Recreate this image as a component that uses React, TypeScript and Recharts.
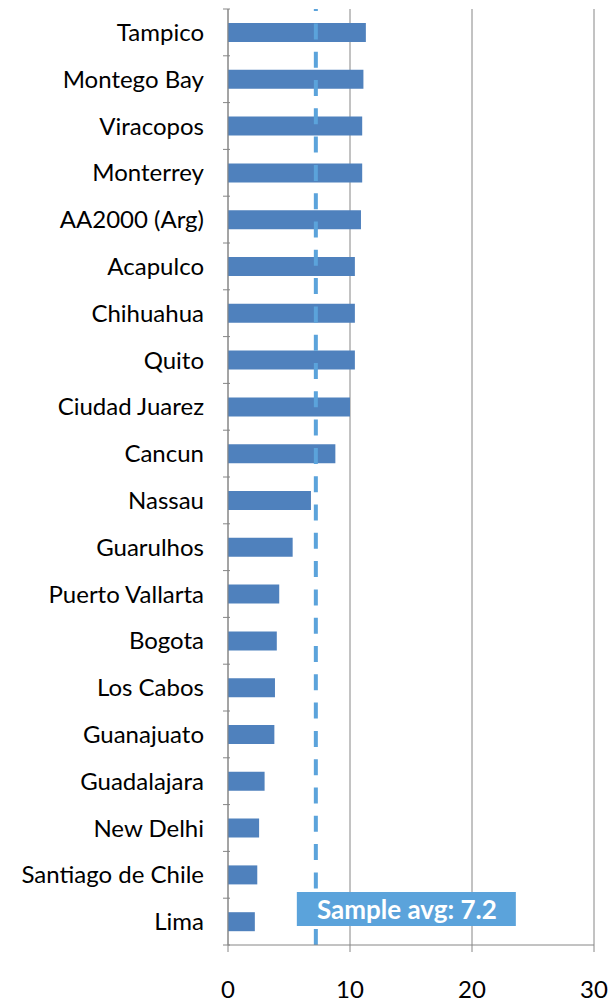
import React from "react";
import {
  BarChart,
  Bar,
  XAxis,
  YAxis,
  CartesianGrid,
  ReferenceLine,
} from "recharts";

const airports = [
  "Tampico",
  "Montego Bay",
  "Viracopos",
  "Monterrey",
  "AA2000 (Arg)",
  "Acapulco",
  "Chihuahua",
  "Quito",
  "Ciudad Juarez",
  "Cancun",
  "Nassau",
  "Guarulhos",
  "Puerto Vallarta",
  "Bogota",
  "Los Cabos",
  "Guanajuato",
  "Guadalajara",
  "New Delhi",
  "Santiago de Chile",
  "Lima",
];

const scores = [
  11.3, 11.1, 11.0, 11.0, 10.9, 10.4, 10.4, 10.4, 10.0, 8.8, 6.8, 5.3, 4.2,
  4.0, 3.85, 3.8, 3.0, 2.55, 2.4, 2.2,
];

const xTicks = [0, 10, 20, 30];
const sampleAvg = 7.2;

const data = airports.map((name, i) => ({ name, value: scores[i] }));

const FONT = "Lato, 'Open Sans', sans-serif";
const AXIS = "#868686";
const WIDTH = 615;
const HEIGHT = 1002;
const TOP = 9;
const PLOT_H = 936;
const BAND = PLOT_H / airports.length;

function CategoryTick(props: any) {
  const { x, y, payload, index } = props;
  const axisX = x + 10;
  return (
    <g>
      <line x1={axisX - 7} x2={axisX} y1={y - BAND / 2} y2={y - BAND / 2} stroke={AXIS} />
      {index === airports.length - 1 && (
        <line x1={axisX - 7} x2={axisX} y1={y + BAND / 2} y2={y + BAND / 2} stroke={AXIS} />
      )}
      <text
        x={axisX - 26}
        y={y}
        dy="0.36em"
        textAnchor="end"
        fontFamily={FONT}
        fontSize={24}
        fill="#000"
      >
        {payload.value}
      </text>
    </g>
  );
}

function ValueTick(props: any) {
  const { x, y, payload } = props;
  return (
    <text
      x={x}
      y={y + 44}
      textAnchor="middle"
      fontFamily={FONT}
      fontSize={24}
      fill="#000"
    >
      {payload.value}
    </text>
  );
}

function AvgLabel(props: any) {
  const { viewBox } = props;
  const bottom = viewBox.y + viewBox.height;
  const left = viewBox.x - 19;
  return (
    <g>
      <rect x={left} y={bottom - 53} width={219} height={34} fill="#5BA3DB" />
      <text
        x={left + 110}
        y={bottom - 26}
        textAnchor="middle"
        fontFamily={FONT}
        fontWeight="bold"
        fontSize={26}
        fill="#fff"
      >
        {`Sample avg: ${sampleAvg}`}
      </text>
    </g>
  );
}

export default function App() {
  return (
    <div style={{ position: "absolute", left: 0, top: 0, background: "#fff" }}>
      <BarChart
        width={WIDTH}
        height={HEIGHT}
        data={data}
        layout="vertical"
        margin={{ top: TOP, right: 21, bottom: 0, left: 0 }}
        barCategoryGap={0}
      >
        <CartesianGrid horizontal={false} stroke={AXIS} />
        <XAxis
          type="number"
          domain={[0, 30]}
          ticks={xTicks}
          height={HEIGHT - TOP - PLOT_H}
          stroke={AXIS}
          tickSize={7}
          tick={<ValueTick />}
        />
        <YAxis
          type="category"
          dataKey="name"
          width={228}
          interval={0}
          stroke={AXIS}
          tickLine={false}
          tick={<CategoryTick />}
        />
        <Bar dataKey="value" fill="#4F81BD" barSize={19} isAnimationActive={false} />
        <ReferenceLine
          x={sampleAvg}
          stroke="#5BA3DB"
          strokeWidth={4}
          strokeDasharray="16 12.3"
          label={<AvgLabel />}
        />
      </BarChart>
    </div>
  );
}
